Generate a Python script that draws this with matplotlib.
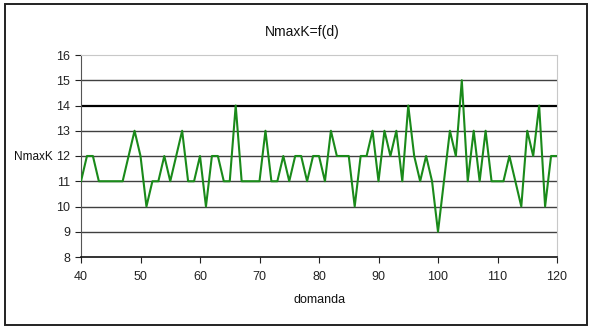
import matplotlib
matplotlib.use("Agg")
import matplotlib.pyplot as plt
from matplotlib.patches import Rectangle

plt.rcParams['font.family'] = ['Liberation Sans', 'DejaVu Sans']

domanda = list(range(40, 121))
nmaxk = [11, 12, 12, 11, 11, 11, 11, 11, 12, 13,
         12, 10, 11, 11, 12, 11, 12, 13, 11, 11,
         12, 10, 12, 12, 11, 11, 14, 11, 11, 11,
         11, 13, 11, 11, 12, 11, 12, 12, 11, 12,
         12, 11, 13, 12, 12, 12, 10, 12, 12, 13,
         11, 13, 12, 13, 11, 14, 12, 11, 12, 11,
         9, 11, 13, 12, 15, 11, 13, 11, 13, 11,
         11, 11, 12, 11, 10, 13, 12, 14, 10, 12,
         12]
x_ticks = [40, 50, 60, 70, 80, 90, 100, 110, 120]
y_ticks = [8, 9, 10, 11, 12, 13, 14, 15, 16]

fig = plt.figure(figsize=(5.92, 3.29), dpi=100)
fig.patch.set_facecolor('white')
fig.patches.append(Rectangle((5/592, 4/329), 582/592, 321/329, transform=fig.transFigure,
                             fill=False, edgecolor='#222222', linewidth=1.4))

ax = fig.add_axes([81/592, 1 - 257/329, 476/592, 202/329])
for y in y_ticks[1:-1]:
    if y == 14:
        ax.axhline(y, color='#000000', linewidth=1.6, zorder=1)
    else:
        ax.axhline(y, color='#404040', linewidth=1.0, zorder=1)

ax.plot(domanda, nmaxk, color='#1a8a1a', linewidth=1.5, zorder=3)

ax.set_xlim(40, 120)
ax.set_ylim(8, 16)
ax.set_xticks(x_ticks)
ax.set_yticks(y_ticks)
ax.tick_params(axis='both', labelsize=9, direction='out', length=4, width=0.8, colors='#222222')
ax.tick_params(axis='x', pad=6)
ax.tick_params(axis='y', pad=4)

ax.spines['top'].set_color('#c8c8c8')
ax.spines['right'].set_color('#c8c8c8')
ax.spines['left'].set_color('#555555')
ax.spines['bottom'].set_color('#111111')
ax.spines['bottom'].set_linewidth(1.2)

fig.text(0.51, 1 - 32/329, 'NmaxK=f(d)', ha='center', va='center', fontsize=10, color='#111111')
fig.text(53/592, 1 - 157/329, 'NmaxK', ha='right', va='center', fontsize=8.5, color='#111111')
fig.text(320/592, 1 - 300/329, 'domanda', ha='center', va='center', fontsize=9, color='#111111')

fig.savefig('out.png', dpi=100)
